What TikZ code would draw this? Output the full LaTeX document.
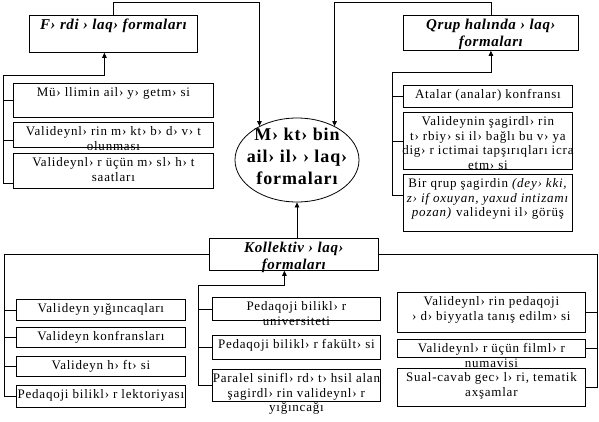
\documentclass[tikz,border=0pt]{standalone}
\usepackage{fontspec}
\setmainfont{Liberation Serif}
\usetikzlibrary{arrows.meta,shapes.geometric}
\newcommand{\formbox}[7]{% name, left, top, right, bottom, text style, text
  \node[frame, minimum width={#4pt-#2pt}, minimum height={#5pt-#3pt}] (#1) at (#2,#3) {};
  \node[#6] (#1-t) at ([yshift=-4pt]#1.north) {#7};}

\begin{document}
\begin{tikzpicture}[
  x=1pt, y=-1pt,
  frame/.style={draw, fill=white, line width=0.8pt, inner sep=0pt, anchor=north west},
  boxtext/.style={anchor=north, align=center, inner sep=0pt,
    font=\fontsize{13}{14.8}\selectfont\addfontfeatures{LetterSpace=6}},
  titletext/.style={anchor=north, align=center, inner sep=0pt,
    font=\fontsize{15}{17}\selectfont\bfseries\itshape\addfontfeatures{LetterSpace=4}},
  conn/.style={line width=0.8pt},
  arr/.style={conn, -{Triangle[length=5pt,width=4.5pt]}},
]
\useasboundingbox (0,0) rectangle (599,421);

% ---- Centre ----
\node[ellipse, draw, line width=0.8pt, minimum width=124pt, minimum height=84pt] (ell) at (297,160) {};
\node[align=center, inner sep=0pt, font=\fontsize{18}{22}\selectfont\bfseries\addfontfeatures{LetterSpace=5}] (ell-t) at (297,156)
  {M› kt› bin\\ail› il› › laq›\\formaları};

% ---- Top titles ----
\formbox{tl}{29}{15}{197}{52}{titletext}{F› rdi › laq› formaları}
\formbox{tr}{403}{15}{578}{50}{titletext}{Qrup halında › laq›\\formaları}

% ---- Left upper column ----
\formbox{lt1}{13}{83}{213}{117}{boxtext}{Mü› llimin ail› y› getm› si}
\formbox{lt2}{13}{122}{213}{147}{boxtext}{Valideynl› rin m› kt› b› d› v› t\\olunması}
\formbox{lt3}{13}{153}{213}{188}{boxtext}{Valideynl› r üçün m› sl› h› t\\saatları}

% ---- Right upper column ----
\formbox{rt1}{403}{85}{572}{107}{boxtext}{Atalar (analar) konfransı}
\formbox{rt2}{403}{112}{572}{169}{boxtext}{Valideynin şagirdl› rin\\t› rbiy› si il› bağlı bu v› ya\\dig› r ictimai tapşırıqları icra\\etm› si}
\formbox{rt3}{403}{174}{572}{231}{boxtext}{Bir qrup şagirdin \textit{(dey› kki,}\\\textit{z› if oxuyan, yaxud intizamı}\\\textit{pozan)} valideyni il› görüş}

% ---- Collective ----
\formbox{kol}{209}{238}{378}{270}{titletext}{Kollektiv › laq›\\formaları}

% ---- Bottom columns ----
\formbox{lb1}{16}{299}{185}{320}{boxtext}{Valideyn yığıncaqları}
\formbox{lb2}{16}{327}{185}{347}{boxtext}{Valideyn konfransları}
\formbox{lb3}{16}{356}{185}{376}{boxtext}{Valideyn h› ft› si}
\formbox{lb4}{16}{385}{185}{407}{boxtext}{Pedaqoji bilikl› r lektoriyası}
\formbox{mb1}{212}{297}{380}{320}{boxtext}{Pedaqoji bilikl› r\\universiteti}
\formbox{mb2}{212}{335}{380}{359}{boxtext}{Pedaqoji bilikl› r fakült› si}
\formbox{mb3}{212}{369}{380}{401}{boxtext}{Paralel sinifl› rd› t› hsil alan\\şagirdl› rin valideynl› r\\yığıncağı}
\formbox{rb1}{397}{292}{585}{332}{boxtext}{Valideynl› rin pedaqoji\\› d› biyyatla tanış edilm› si}
\formbox{rb2}{397}{339}{585}{357}{boxtext}{Valideynl› r üçün filml› r\\numavisi}
\formbox{rb3}{397}{368}{585}{406}{boxtext}{Sual-cavab gec› l› ri, tematik\\axşamlar}

% ---- Titles -> centre ----
\draw[arr] (tl.north) |- ++(0,-13) -| (ell.138);
\draw[arr] (tr.north) |- ++(0,-13) -| (ell.42);
\draw[arr] (kol.north -| ell.south) -- (ell.south);

% ---- Upper buses ----
\coordinate (lbus) at (3,75);
\draw[arr] (lbus) -| ([xshift=-9pt]tl.south);
\draw[conn] (lbus) |- ([yshift=-12pt]lt3.west);
\draw[conn] (lt1.west -| lbus) -- (lt1.west);
\draw[conn] ([yshift=-5pt]lt2.west -| lbus) -- ([yshift=-5pt]lt2.west);

\coordinate (rbus) at (392,72);
\draw[arr] (rbus) -| (tr.south);
\draw[conn] (rbus) |- ([yshift=8pt]rt3.west);
\draw[conn] (rt1.west -| rbus) -- (rt1.west);
\draw[conn] (rt2.west -| rbus) -- (rt2.west);

% ---- Lower buses ----
\coordinate (blbus) at (4,0);
\draw[conn] (kol.west) -| (blbus |- lb4.west) -- (lb4.west);
\foreach \b in {lb1,lb2,lb3}
  \draw[conn] (\b.west -| blbus) -- (\b.west);

\coordinate (mbus) at (198,285);
\draw[arr] (mbus) -| ([xshift=-9.5pt]kol.south);
\draw[conn] (mbus) |- (mb3.west);
\foreach \b in {mb1,mb2}
  \draw[conn] (\b.west -| mbus) -- (\b.west);

\coordinate (brbus) at (597,0);
\draw[conn] (kol.east) -| (brbus |- rb3.east) -- (rb3.east);
\foreach \b in {rb1,rb2}
  \draw[conn] (\b.east -| brbus) -- (\b.east);
\end{tikzpicture}
\end{document}
